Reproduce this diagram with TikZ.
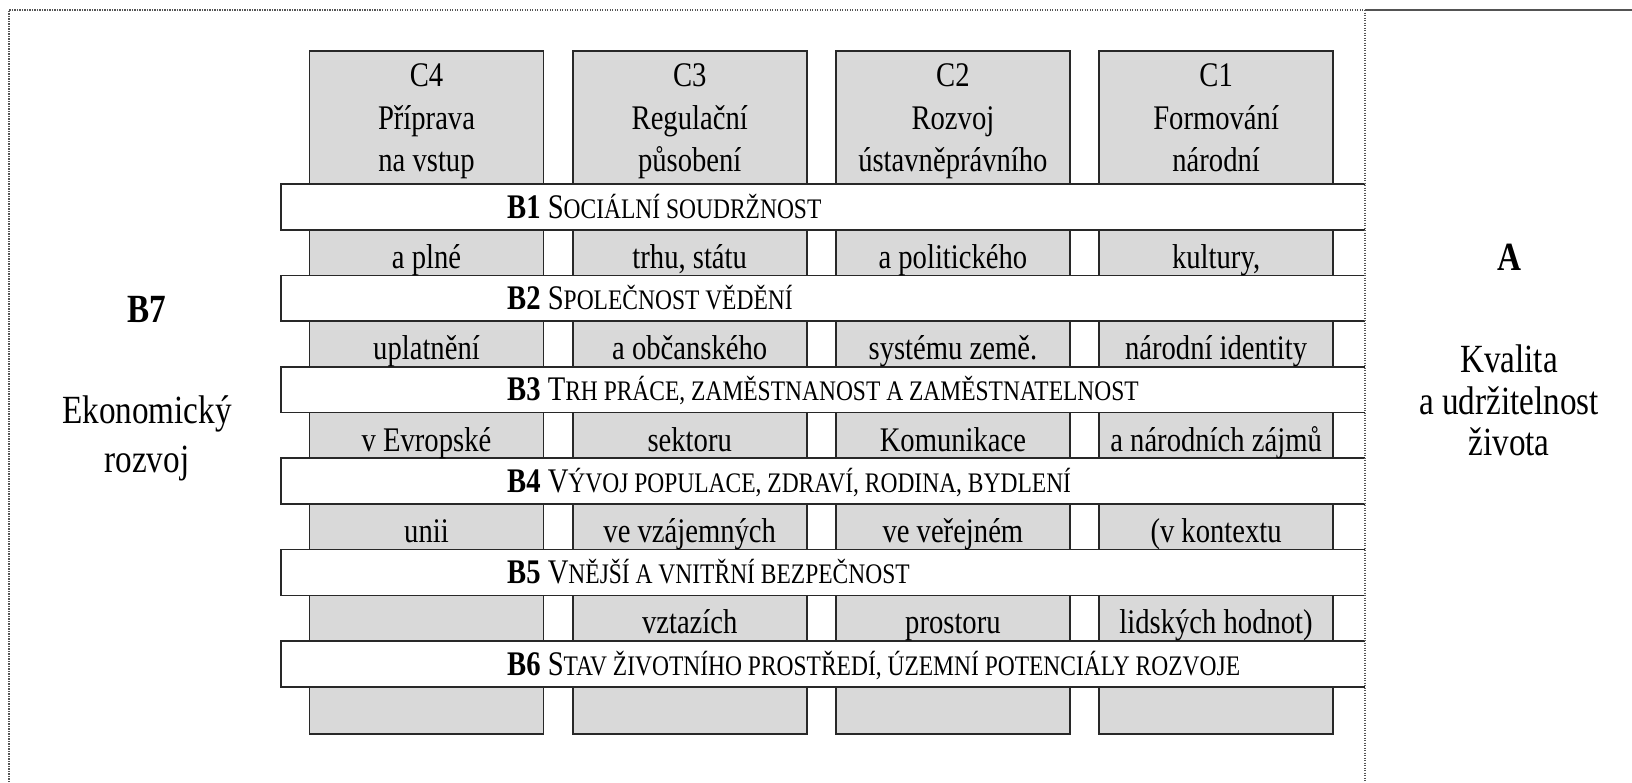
\documentclass[tikz,border=0pt]{standalone}
\usepackage{fontspec}
\setmainfont{Liberation Serif}[FakeStretch=0.83]
\definecolor{boxgray}{RGB}{217,217,217}
\definecolor{linecol}{RGB}{40,40,40}
\definecolor{framecol}{RGB}{85,85,85}
\newcommand\smc[1]{{\fontsize{28.3}{30}\selectfont #1}}
\begin{document}
\begin{tikzpicture}[x=1pt,y=-1pt,
  cbox/.style={fill=boxgray, draw=linecol, line width=1.6pt},
  bandfill/.style={fill=white},
  bandline/.style={draw=linecol, line width=1.6pt},
  framedot/.style={draw=framecol, line width=1.7pt, dash pattern=on 1.4pt off 1.1pt},
  framesolid/.style={draw=linecol!80!white, line width=2.4pt},
  txt/.style={inner sep=0pt, anchor=base, font=\fontsize{34.5}{40}\selectfont},
  bandtxt/.style={inner sep=0pt, anchor=base west, font=\fontsize{34.5}{40}\selectfont},
  side/.style={inner sep=0pt, anchor=base, font=\fontsize{40}{46}\selectfont}]
\useasboundingbox (0,0) rectangle (1632,782);
\fill[white] (0,0) rectangle (1632,782);

% columns C4..C1
\foreach \cx in {426.5,689.7,952.9,1216.1}
  \draw[cbox] (\cx-117,50.7) rectangle (\cx+117,734);

% bands B1..B6
\foreach \k in {0,...,5}{
  \pgfmathsetmacro\t{184+91.4*\k}
  \fill[bandfill] (281,\t) rectangle (1365,\t+45.7);
  \draw[bandline] (1365,\t) -- (281,\t) -- (281,\t+45.7) -- (1365,\t+45.7);
}

% frame
\draw[framedot] (9,782) -- (9,10) -- (1365,10);
\draw[framedot] (1365,10) -- (1365,782);
\draw[framesolid] (1365,10) -- (1632,10);

% header texts
\node[txt] (c4a) at (426.5,86.7) {C4};
\node[txt] (c4b) at (426.5,129) {Příprava};
\node[txt] (c4c) at (426.5,171.7) {na vstup};
\node[txt] (c3a) at (689.7,86.7) {C3};
\node[txt] (c3b) at (689.7,129) {Regulační};
\node[txt] (c3c) at (689.7,171.7) {působení};
\node[txt] (c2a) at (952.9,86.7) {C2};
\node[txt] (c2b) at (952.9,129) {Rozvoj};
\node[txt] (c2c) at (952.9,171.7) {ústavněprávního};
\node[txt] (c1a) at (1216.1,86.7) {C1};
\node[txt] (c1b) at (1216.1,129) {Formování};
\node[txt] (c1c) at (1216.1,171.7) {národní};

% row texts
\node[txt] (r1c4) at (426.5,268.3) {a plné};
\node[txt] (r1c3) at (689.7,268.3) {trhu, státu};
\node[txt] (r1c2) at (952.9,268.3) {a politického};
\node[txt] (r1c1) at (1216.1,268.3) {kultury,};
\node[txt] (r2c4) at (426.5,359.7) {uplatnění};
\node[txt] (r2c3) at (689.7,359.7) {a občanského};
\node[txt] (r2c2) at (952.9,359.7) {systému země.};
\node[txt] (r2c1) at (1216.1,359.7) {národní identity};
\node[txt] (r3c4) at (426.5,451.1) {v Evropské};
\node[txt] (r3c3) at (689.7,451.1) {sektoru};
\node[txt] (r3c2) at (952.9,451.1) {Komunikace};
\node[txt] (r3c1) at (1216.1,451.1) {a národních zájmů};
\node[txt] (r4c4) at (426.5,542.5) {unii};
\node[txt] (r4c3) at (689.7,542.5) {ve vzájemných};
\node[txt] (r4c2) at (952.9,542.5) {ve veřejném};
\node[txt] (r4c1) at (1216.1,542.5) {(v kontextu};
\node[txt] (r5c3) at (689.7,633.9) {vztazích};
\node[txt] (r5c2) at (952.9,633.9) {prostoru};
\node[txt] (r5c1) at (1216.1,633.9) {lidských hodnot)};

% band texts
\node[bandtxt] (b1) at (507,218) {\textbf{B1} S\smc{OCIÁLNÍ SOUDRŽNOST}};
\node[bandtxt] (b2) at (507,309.4) {\textbf{B2} S\smc{POLEČNOST VĚDĚNÍ}};
\node[bandtxt] (b3) at (507,400.8) {\textbf{B3} T\smc{RH PRÁCE, ZAMĚSTNANOST A ZAMĚSTNATELNOST}};
\node[bandtxt] (b4) at (507,492.2) {\textbf{B4} V\smc{ÝVOJ POPULACE, ZDRAVÍ, RODINA, BYDLENÍ}};
\node[bandtxt] (b5) at (507,583.6) {\textbf{B5} V\smc{NĚJŠÍ A VNITŘNÍ BEZPEČNOST}};
\node[bandtxt] (b6) at (507,675) {\textbf{B6} S\smc{TAV ŽIVOTNÍHO PROSTŘEDÍ, ÚZEMNÍ POTENCIÁLY ROZVOJE}};

% side labels
\node[side] (b7) at (147,322) {\textbf{B7}};
\node[side] (b7a) at (147,423) {Ekonomický};
\node[side] (b7b) at (147,472) {rozvoj};
\node[side] (a) at (1509,270) {\textbf{A}};
\node[side] (aa) at (1509,372) {Kvalita};
\node[side] (ab) at (1509,414) {a udržitelnost};
\node[side] (ac) at (1509,455) {života};
\end{tikzpicture}
\end{document}
